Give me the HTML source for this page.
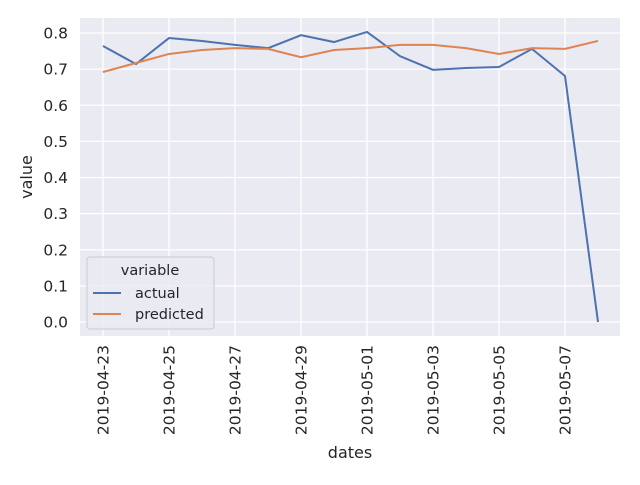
<!DOCTYPE html>
<html><head><meta charset="utf-8"><style>
body{margin:0;background:#fff;}
svg text{font-family:"DejaVu Sans","Liberation Sans",sans-serif;fill:#262626;}
</style></head><body>
<svg width="640" height="480" id="chart">
<rect x="80" y="18" width="540" height="318" fill="#EAEAF2"/>
<g id="grid"></g><g id="ticks"></g><g id="lines"></g>
<text x="350" y="458" text-anchor="middle" font-size="16">dates</text>
<text transform="translate(32,177) rotate(-90)" text-anchor="middle" font-size="16">value</text>
<g>
<rect x="87" y="257" width="127" height="72" rx="3" fill="#EAEAF2" fill-opacity="0.8" stroke="#ccc"/>
<text x="150" y="275" text-anchor="middle" font-size="14.5">variable</text>
<line x1="93" y1="293" x2="121" y2="293" stroke="#4C72B0" stroke-width="2"/>
<text x="135" y="298" font-size="14.5">actual</text>
<line x1="93" y1="314" x2="121" y2="314" stroke="#DD8452" stroke-width="2"/>
<text x="135" y="319" font-size="14.5">predicted</text>
</g>
</svg>
<script>
const dates=["2019-04-23","2019-04-24","2019-04-25","2019-04-26","2019-04-27","2019-04-28","2019-04-29","2019-04-30","2019-05-01","2019-05-02","2019-05-03","2019-05-04","2019-05-05","2019-05-06","2019-05-07","2019-05-08"];
const actual=[0.764,0.714,0.786,0.778,0.767,0.758,0.794,0.775,0.803,0.736,0.698,0.703,0.706,0.756,0.681,0.0];
const predicted=[0.692,0.717,0.742,0.753,0.758,0.756,0.733,0.753,0.758,0.767,0.767,0.758,0.742,0.758,0.756,0.778];
const yTicks=[0,0.1,0.2,0.3,0.4,0.5,0.6,0.7,0.8];
const xTickIdx=[0,2,4,6,8,10,12,14];
const NS="http://www.w3.org/2000/svg";
const x=i=>103+i*33;
const y=v=>322-v*361.25;
function mk(tag,attrs,parent){const e=document.createElementNS(NS,tag);for(const k in attrs)e.setAttribute(k,attrs[k]);parent.appendChild(e);return e;}
const grid=document.getElementById('grid'),ticks=document.getElementById('ticks'),lines=document.getElementById('lines');
yTicks.forEach(v=>{
  const l=mk('line',{x1:80,x2:620,y1:y(v),y2:y(v),stroke:'#fff','stroke-width':1.3},grid);
  
  
  const t=mk('text',{x:68,y:y(v)+5.5,'text-anchor':'end','font-size':15.5},ticks);
  
  
  t.textContent=v.toFixed(1);
});
xTickIdx.forEach(i=>{
  const l=mk('line',{x1:x(i),x2:x(i),y1:18,y2:336,stroke:'#fff','stroke-width':1.3},grid);
  
  
  const t=mk('text',{transform:`translate(${x(i)+5.5},345) rotate(-90)`,'text-anchor':'end','font-size':15.5},ticks);
  
  
  t.textContent=dates[i];
});
[[actual,'#4C72B0','actual-line'],[predicted,'#DD8452','predicted-line']].forEach(([d,c,n])=>{
  const p=mk('polyline',{points:d.map((v,i)=>x(i)+','+y(v)).join(' '),fill:'none',stroke:c,'stroke-width':2},lines);
  
  
});
</script>
</body></html>
